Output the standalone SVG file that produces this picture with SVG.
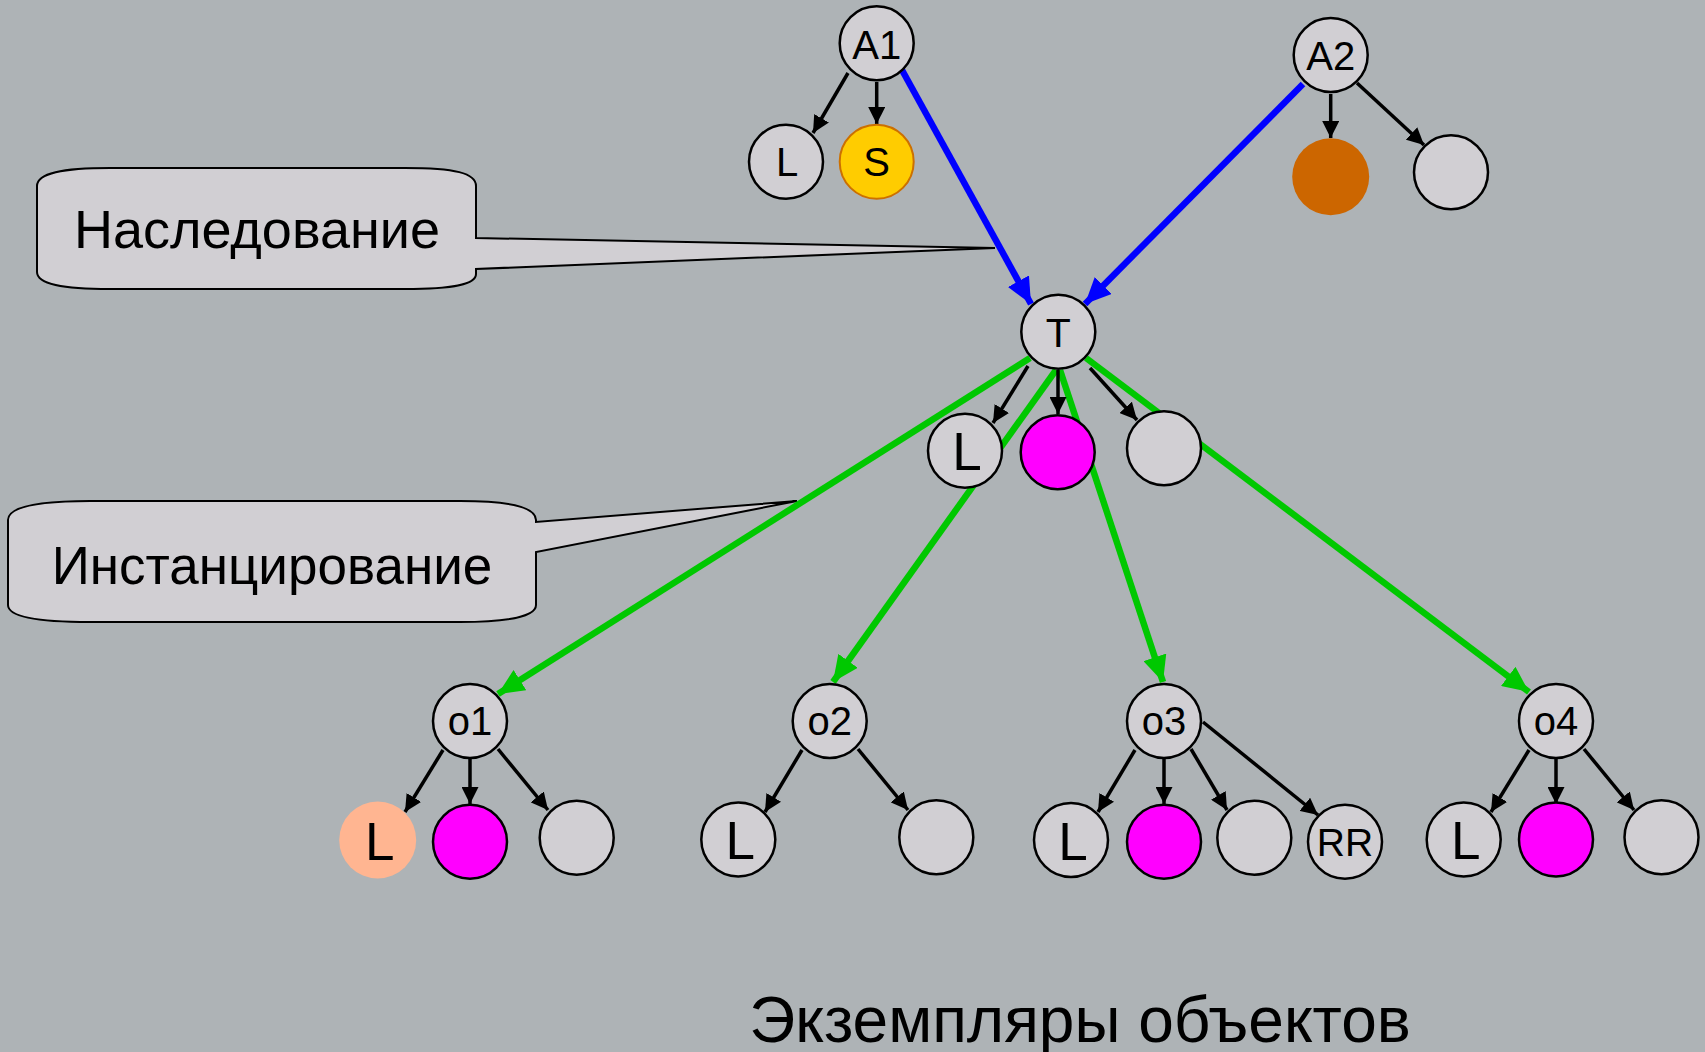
<svg xmlns="http://www.w3.org/2000/svg" width="1705" height="1052" viewBox="0 0 1705 1052">
<style>
.n{fill:#D1CFD3;stroke:#000;stroke-width:2.5}
.m{fill:#FF00FF;stroke:#000;stroke-width:2.5}
.t{font-family:"Liberation Sans",Arial,sans-serif;fill:#000;text-anchor:middle}
.k{stroke:#000;stroke-width:3.5;fill:none}
.b{stroke:#0000FF;stroke-width:6.5;fill:none}
.g{stroke:#00C800;stroke-width:6.5;fill:none}
.c{fill:#D1CFD3;stroke:#000;stroke-width:2}
</style>
<defs>
<marker id="ak" viewBox="0 0 17 17" refX="17" refY="8.5" markerWidth="17" markerHeight="17" markerUnits="userSpaceOnUse" orient="auto"><path d="M0,0 L17,8.5 L0,17 Z" fill="#000"/></marker>
<marker id="ab" viewBox="0 0 26 24" refX="26" refY="12" markerWidth="26" markerHeight="24" markerUnits="userSpaceOnUse" orient="auto"><path d="M0,0 L26,12 L0,24 Z" fill="#0000FF"/></marker>
<marker id="ag" viewBox="0 0 26 24" refX="26" refY="12" markerWidth="26" markerHeight="24" markerUnits="userSpaceOnUse" orient="auto"><path d="M0,0 L26,12 L0,24 Z" fill="#00C800"/></marker>
</defs>
<rect width="1705" height="1052" fill="#AEB3B6"/>
<g id="callout-inheritance">
<path class="c" d="M37,186 C37,173 62,168 110,168 L405,168 C455,168 476,173 476,186 L476,238 L995,248 L476,269 L476,274 C476,284 455,289 405,289 L110,289 C62,289 37,284 37,272 Z"/>
<text class="t" x="257" y="248" font-size="54">Наследование</text>
</g>
<g id="callout-instantiation">
<path class="c" d="M8,520 C8,507 35,501 90,501 L460,501 C510,501 536,507 536,520 L536,522 L797,501 L536,552 L536,605 C536,616 510,622 460,622 L90,622 C35,622 8,616 8,605 Z"/>
<text class="t" x="272" y="584" font-size="53">Инстанцирование</text>
</g>
<g id="connectors">
<path class="g" marker-end="url(#ag)" d="M1030,358 L498,694"/>
<path class="g" marker-end="url(#ag)" d="M1056,370 L833,682"/>
<path class="g" marker-end="url(#ag)" d="M1060,370 L1163,682"/>
<path class="g" marker-end="url(#ag)" d="M1086,358 L1529,692"/>
<path class="b" marker-end="url(#ab)" d="M902,70 L1031,304"/>
<path class="b" marker-end="url(#ab)" d="M1303,84 L1085,304"/>
<path class="k" marker-end="url(#ak)" d="M848,73 L813,133"/>
<path class="k" marker-end="url(#ak)" d="M876.7,82 L876.7,124"/>
<path class="k" marker-end="url(#ak)" d="M1330.7,94 L1330.7,138"/>
<path class="k" marker-end="url(#ak)" d="M1357,83 L1424,145"/>
<path class="k" marker-end="url(#ak)" d="M1028,366 L993,423"/>
<path class="k" marker-end="url(#ak)" d="M1058,370 L1058,414"/>
<path class="k" marker-end="url(#ak)" d="M1090,368 L1137,420"/>
<path class="k" marker-end="url(#ak)" d="M443,750 L405,812"/>
<path class="k" marker-end="url(#ak)" d="M470,759 L470,804"/>
<path class="k" marker-end="url(#ak)" d="M498,749 L548,810"/>
<path class="k" marker-end="url(#ak)" d="M802,750 L765,812"/>
<path class="k" marker-end="url(#ak)" d="M858,749 L908,810"/>
<path class="k" marker-end="url(#ak)" d="M1135,750 L1098,812"/>
<path class="k" marker-end="url(#ak)" d="M1164,759 L1164,804"/>
<path class="k" marker-end="url(#ak)" d="M1191,749 L1227,810"/>
<path class="k" marker-end="url(#ak)" d="M1203,722 L1318,815"/>
<path class="k" marker-end="url(#ak)" d="M1529,750 L1491,812"/>
<path class="k" marker-end="url(#ak)" d="M1556,759 L1556,804"/>
<path class="k" marker-end="url(#ak)" d="M1584,749 L1634,810"/>
</g>
<g id="A1"><circle class="n" cx="876.7" cy="43.3" r="37"/><text class="t" x="876.7" y="59" font-size="40">A1</text></g>
<g id="A1-L"><circle class="n" cx="786" cy="161.7" r="37"/><text class="t" x="787" y="176" font-size="40">L</text></g>
<g id="A1-S"><circle cx="876.7" cy="161.7" r="37" fill="#FFCC00" stroke="#CC7000" stroke-width="2"/><text class="t" x="876.7" y="176" font-size="40">S</text></g>
<g id="A2"><circle class="n" cx="1330.7" cy="55" r="37"/><text class="t" x="1330.7" y="70" font-size="40">A2</text></g>
<g id="A2-c1"><circle cx="1330.7" cy="176.7" r="38.5" fill="#CC6600"/></g>
<g id="A2-c2"><circle class="n" cx="1451" cy="172.3" r="37"/></g>
<g id="T"><circle class="n" cx="1058.3" cy="331.7" r="37"/><text class="t" x="1058.3" y="346.5" font-size="41">T</text></g>
<g id="T-L"><circle class="n" cx="965" cy="450.7" r="37"/><text class="t" x="967" y="470" font-size="53">L</text></g>
<g id="T-m"><circle class="m" cx="1057.7" cy="452.3" r="37"/></g>
<g id="T-c"><circle class="n" cx="1164" cy="448.3" r="37"/></g>
<g id="o1"><circle class="n" cx="470" cy="721" r="37"/><text class="t" x="470" y="735" font-size="40">o1</text></g>
<g id="o1-L"><circle cx="377.7" cy="840" r="38.5" fill="#FFB591"/><text class="t" x="379.7" y="860" font-size="53">L</text></g>
<g id="o1-m"><circle class="m" cx="470" cy="841.7" r="37"/></g>
<g id="o1-c"><circle class="n" cx="576.7" cy="837.7" r="37"/></g>
<g id="o2"><circle class="n" cx="829.7" cy="721" r="37"/><text class="t" x="829.7" y="735" font-size="40">o2</text></g>
<g id="o2-L"><circle class="n" cx="738.3" cy="839.5" r="37"/><text class="t" x="740.3" y="859" font-size="53">L</text></g>
<g id="o2-c"><circle class="n" cx="936.3" cy="837.3" r="37"/></g>
<g id="o3"><circle class="n" cx="1164" cy="721" r="37"/><text class="t" x="1164" y="735" font-size="40">o3</text></g>
<g id="o3-L"><circle class="n" cx="1071" cy="840" r="37"/><text class="t" x="1073" y="860" font-size="53">L</text></g>
<g id="o3-m"><circle class="m" cx="1164" cy="841.7" r="37"/></g>
<g id="o3-c"><circle class="n" cx="1254.3" cy="837.7" r="37"/></g>
<g id="o3-RR"><circle class="n" cx="1345" cy="841.7" r="37"/><text class="t" x="1345" y="856" font-size="39">RR</text></g>
<g id="o4"><circle class="n" cx="1556" cy="721" r="37"/><text class="t" x="1556" y="735" font-size="40">o4</text></g>
<g id="o4-L"><circle class="n" cx="1463.7" cy="839.5" r="37"/><text class="t" x="1465.7" y="859" font-size="53">L</text></g>
<g id="o4-m"><circle class="m" cx="1556" cy="839.5" r="37"/></g>
<g id="o4-c"><circle class="n" cx="1661.5" cy="837.3" r="37"/></g>
<text class="t" x="1080" y="1042" font-size="64">Экземпляры объектов</text>
</svg>
